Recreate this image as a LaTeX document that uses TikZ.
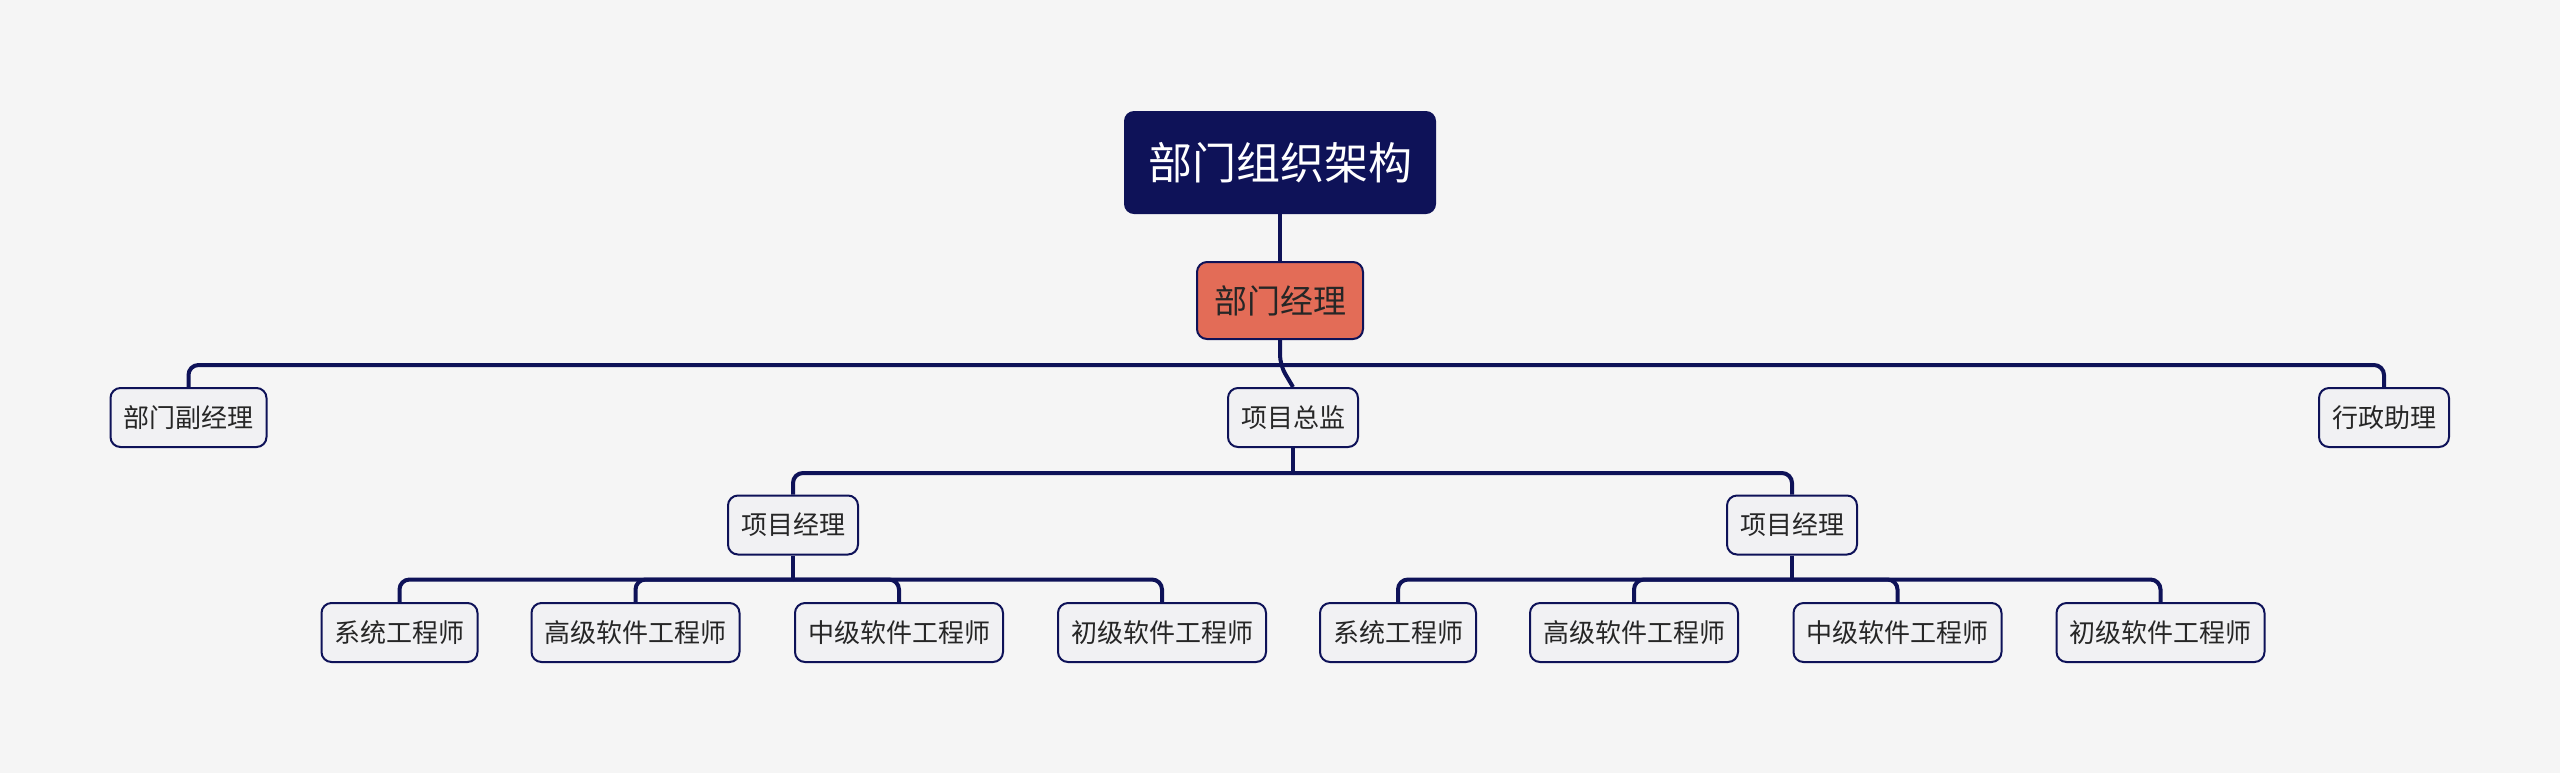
\documentclass[tikz,border=0pt]{standalone}
\usepackage{fontspec}
\setmainfont{Noto Sans CJK SC}
\usepackage{tikz}

\definecolor{navy}{HTML}{0E1258}
\definecolor{salmon}{HTML}{E36C57}
\definecolor{boxfill}{HTML}{F1F1F3}
\definecolor{paper}{HTML}{F5F5F5}
\definecolor{ink}{HTML}{262626}

\begin{document}
\begin{tikzpicture}[x=0.5pt,y=-0.5pt,
		box/.style={draw=navy,line width=1pt,fill=boxfill,rounded corners=5pt,text=ink,
			minimum height=29.5pt,inner xsep=6.5pt,inner ysep=0pt,font=\fontsize{13pt}{15pt}\selectfont},
		link/.style={draw=navy,line width=2pt,rounded corners=5pt}]
			\fill[paper] (0,0) rectangle (2560,773);
			\useasboundingbox (0,0) rectangle (2560,773);
			% top of the tree
			\node[fill=navy,rounded corners=5pt,text=white,minimum width=156pt,minimum height=51.5pt,
				font=\fontsize{22pt}{26pt}\selectfont] (root) at (1280,162.5) {部门组织架构};
			\node[draw=navy,line width=1pt,fill=salmon,rounded corners=5pt,text=ink,minimum width=83pt,
				minimum height=38.5pt,font=\fontsize{16.5pt}{19pt}\selectfont] (mgr) at (1280,300.5) {部门经理};
			\node[box] (fu) at (188.5,417.5) {部门副经理};
			\node[box] (zj) at (1293,417.5) {项目总监};
			\node[box] (xz) at (2384,417.5) {行政助理};
			\node[box] (pm1) at (793,525) {项目经理};
			\node[box] (pm2) at (1792,525) {项目经理};
			\foreach \g/\dx in {1/0,2/998.5}{
				\foreach \k/\px/\t in {1/399.5/系统工程师,2/635.5/高级软件工程师,3/899/中级软件工程师,4/1162/初级软件工程师}{
					\node[box] (e\g\k) at ({\px+\dx},632.5) {\t};
				}
			}
			% connectors
			\draw[link] (root.south) -- (mgr.north);
			\draw[link] (mgr.south) -- ++(0,25) -- (zj.north);
			\draw[link] (mgr.south) ++(0,25) -| (fu.north);
			\draw[link] (mgr.south) ++(0,25) -| (xz.north);
			\draw[link] (zj.south) -- ++(0,25);
			\foreach \g in {1,2}{
				\draw[link] (zj.south) ++(0,25) -| (pm\g.north);
				\draw[link] (pm\g.south) -- ++(0,24);
				\foreach \k in {1,...,4}{ \draw[link] (pm\g.south) ++(0,24) -| (e\g\k.north); }
			}
		\end{tikzpicture}
\end{document}
